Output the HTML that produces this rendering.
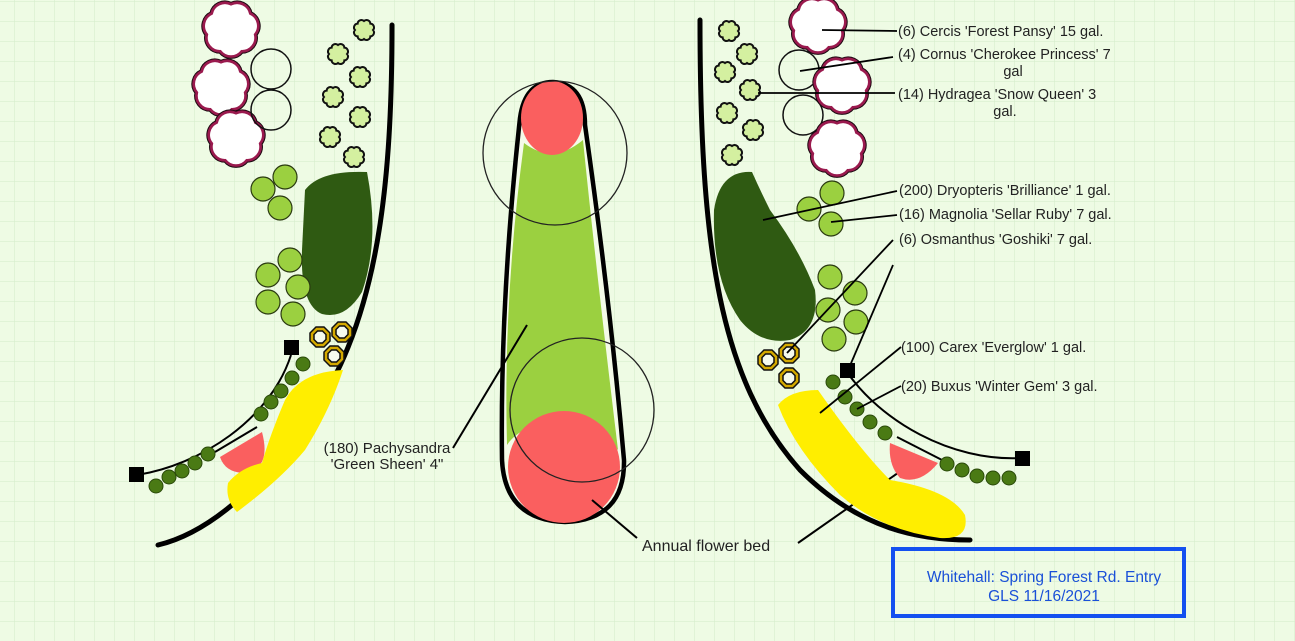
<!DOCTYPE html>
<html><head><meta charset="utf-8"><style>
html,body{margin:0;padding:0;background:#eefbe4}
svg{display:block}
text{font-family:"Liberation Sans",sans-serif;font-size:14.5px;fill:#222}
</style></head><body>
<svg width="1295" height="641" viewBox="0 0 1295 641" xmlns="http://www.w3.org/2000/svg">
<defs>
<pattern id="g" width="20" height="20" patternUnits="userSpaceOnUse" x="15" y="2">
<path d="M20 0V20M0 20H20" fill="none" stroke="#d3ebc9" stroke-width="1"/>
</pattern>
<path id="fp" d="M0,-21 A11.5,11.5 0 0 1 16.4,-13.1 A11.5,11.5 0 0 1 20.5,4.7 A11.5,11.5 0 0 1 9.1,18.9 A11.5,11.5 0 0 1 -9.1,18.9 A11.5,11.5 0 0 1 -20.5,4.7 A11.5,11.5 0 0 1 -16.4,-13.1 A11.5,11.5 0 0 1 0,-21Z" transform="scale(1.18)"/>
<g id="fl">
<use href="#fp" fill="#fff" stroke="#1a0a10" stroke-width="4"/>
<use href="#fp" fill="#fff" stroke="#9a1a4e" stroke-width="2.3"/>
</g>
<path id="sf" d="M9,0 A3.8,3.8 0 0 1 6.36,6.36 A3.8,3.8 0 0 1 0,9 A3.8,3.8 0 0 1 -6.36,6.36 A3.8,3.8 0 0 1 -9,0 A3.8,3.8 0 0 1 -6.36,-6.36 A3.8,3.8 0 0 1 0,-9 A3.8,3.8 0 0 1 6.36,-6.36 A3.8,3.8 0 0 1 9,0Z" fill="#d4f0a0" stroke="#111" stroke-width="2"/>
<g id="oc">
<polygon points="10,4 4,10 -4,10 -10,4 -10,-4 -4,-10 4,-10 10,-4" fill="#d4a900" stroke="#111" stroke-width="1.5"/>
<polygon points="6,2.5 2.5,6 -2.5,6 -6,2.5 -6,-2.5 -2.5,-6 2.5,-6 6,-2.5" fill="#f6fbef" stroke="#111" stroke-width="1.5"/>
</g>
</defs>
<rect width="1295" height="641" fill="#eefbe4"/>
<rect width="1295" height="641" fill="url(#g)"/>

<!-- LEFT -->
<path d="M392,25 C392,200 375,330 305,425 C250,500 200,535 158,545" fill="none" stroke="#000" stroke-width="5" stroke-linecap="round"/>
<use href="#fl" x="231" y="29"/><use href="#fl" x="221" y="87"/><use href="#fl" x="236" y="138"/>
<circle cx="271" cy="69" r="20" fill="none" stroke="#111" stroke-width="1.5"/>
<circle cx="271" cy="110" r="20" fill="none" stroke="#111" stroke-width="1.5"/>
<use href="#sf" x="364" y="30"/><use href="#sf" x="338" y="54"/><use href="#sf" x="360" y="77"/><use href="#sf" x="333" y="97"/><use href="#sf" x="360" y="117"/><use href="#sf" x="330" y="137"/><use href="#sf" x="354" y="157"/>
<path d="M305,190 Q320,170 367,172 Q380,240 362,292 Q345,320 322,314 Q300,305 302,250 Z" fill="#2f5a12"/>
<g fill="#9bd040" stroke="#2a3a10" stroke-width="1.2">
<circle cx="285" cy="177" r="12"/><circle cx="263" cy="189" r="12"/><circle cx="280" cy="208" r="12"/>
<circle cx="290" cy="260" r="12"/><circle cx="268" cy="275" r="12"/><circle cx="298" cy="287" r="12"/><circle cx="268" cy="302" r="12"/><circle cx="293" cy="314" r="12"/>
</g>
<use href="#oc" x="320" y="337"/><use href="#oc" x="342" y="332"/><use href="#oc" x="334" y="356"/>
<path d="M291,355 C270,420 200,465 137,475" fill="none" stroke="#000" stroke-width="2"/>
<path d="M257,427 L215,452" fill="none" stroke="#000" stroke-width="2"/>
<rect x="284" y="340" width="15" height="15" fill="#000"/>
<rect x="129" y="467" width="15" height="15" fill="#000"/>
<g fill="#4a7a14" stroke="#2a4a0a" stroke-width="1">
<circle cx="303" cy="364" r="7"/><circle cx="292" cy="378" r="7"/><circle cx="281" cy="391" r="7"/><circle cx="271" cy="402" r="7"/><circle cx="261" cy="414" r="7"/>
<circle cx="208" cy="454" r="7"/><circle cx="195" cy="463" r="7"/><circle cx="182" cy="471" r="7"/><circle cx="169" cy="477" r="7"/><circle cx="156" cy="486" r="7"/>
</g>
<path d="M220,457 L262,432 Q272,470 243,473 Q225,472 220,457Z" fill="#fa5f5f"/>
<path d="M343,370 Q300,372 285,400 Q270,435 262,463 Q240,468 228,483 Q225,500 237,512 Q280,480 305,450 Q330,410 343,370Z" fill="#ffee00"/>

<!-- CENTER -->
<path d="M520,118 Q525,82 553,82 Q585,84 585,125 Q610,300 624,460 Q625,520 565,522 Q505,520 502,460 Q500,300 520,118Z" fill="#f4fbe8" stroke="#000" stroke-width="4.5"/>
<path d="M524,143 Q553,165 583,140 Q595,260 618,450 Q590,420 560,420 Q520,425 507,445 Q503,300 524,143Z" fill="#9bd040"/>
<ellipse cx="552" cy="118" rx="31" ry="37" fill="#fa5f5f"/>
<circle cx="564" cy="467" r="56" fill="#fa5f5f"/>
<circle cx="555" cy="153" r="72" fill="none" stroke="#222" stroke-width="1.3"/>
<circle cx="582" cy="410" r="72" fill="none" stroke="#222" stroke-width="1.3"/>
<path d="M527,325 L453,448" stroke="#000" stroke-width="2"/>
<text x="387" y="453" text-anchor="middle" style="font-size:15px">(180) Pachysandra</text>
<text x="387" y="469" text-anchor="middle" style="font-size:15px">'Green Sheen' 4"</text>
<path d="M592,500 L637,538" stroke="#000" stroke-width="2"/>
<path d="M798,543 L905,468" stroke="#000" stroke-width="2"/>
<text x="642" y="551" style="font-size:16px">Annual flower bed</text>

<!-- RIGHT -->
<path d="M700,20 C700,250 720,380 800,470 C860,530 920,540 970,540" fill="none" stroke="#000" stroke-width="5" stroke-linecap="round"/>
<use href="#sf" x="729" y="31"/><use href="#sf" x="747" y="54"/><use href="#sf" x="725" y="72"/><use href="#sf" x="750" y="90"/><use href="#sf" x="727" y="113"/><use href="#sf" x="753" y="130"/><use href="#sf" x="732" y="155"/>
<circle cx="799" cy="70" r="20" fill="none" stroke="#111" stroke-width="1.5"/>
<circle cx="803" cy="115" r="20" fill="none" stroke="#111" stroke-width="1.5"/>
<use href="#fl" x="818" y="25"/><use href="#fl" x="842" y="85"/><use href="#fl" x="837" y="148"/>
<path d="M752,172 Q720,170 714,210 Q712,280 740,320 Q760,345 790,340 Q820,330 815,290 Q800,250 770,210 Q760,190 752,172Z" fill="#2f5a12"/>
<g fill="#9bd040" stroke="#2a3a10" stroke-width="1.2">
<circle cx="832" cy="193" r="12"/><circle cx="809" cy="209" r="12"/><circle cx="831" cy="224" r="12"/>
<circle cx="830" cy="277" r="12"/><circle cx="855" cy="293" r="12"/><circle cx="828" cy="310" r="12"/><circle cx="856" cy="322" r="12"/><circle cx="834" cy="339" r="12"/>
</g>
<use href="#oc" x="768" y="360"/><use href="#oc" x="789" y="353"/><use href="#oc" x="789" y="378"/>
<path d="M847,372 C880,420 950,462 1022,458" fill="none" stroke="#000" stroke-width="2"/>
<path d="M897,437 L942,460" fill="none" stroke="#000" stroke-width="2"/>
<rect x="840" y="363" width="15" height="15" fill="#000"/>
<rect x="1015" y="451" width="15" height="15" fill="#000"/>
<g fill="#4a7a14" stroke="#2a4a0a" stroke-width="1">
<circle cx="833" cy="382" r="7"/><circle cx="845" cy="397" r="7"/><circle cx="857" cy="409" r="7"/><circle cx="870" cy="422" r="7"/><circle cx="885" cy="433" r="7"/>
<circle cx="947" cy="464" r="7"/><circle cx="962" cy="470" r="7"/><circle cx="977" cy="476" r="7"/><circle cx="993" cy="478" r="7"/><circle cx="1009" cy="478" r="7"/>
</g>
<path d="M890,443 L938,463 Q920,485 900,478 Q888,465 890,443Z" fill="#fa5f5f"/>
<path d="M778,405 Q790,390 818,390 Q860,450 890,480 Q950,490 965,515 Q970,540 940,538 Q880,530 840,495 Q795,450 778,405Z" fill="#ffee00"/>

<!-- right labels -->
<g stroke="#000" stroke-width="1.8">
<path d="M822,30 L897,31"/><path d="M800,71 L893,57"/><path d="M758,93 L895,93"/>
<path d="M763,220 L897,191"/><path d="M831,222 L897,215"/><path d="M787,353 L893,240"/>
<path d="M893,265 L849,368"/><path d="M820,413 L901,347"/><path d="M857,409 L901,386"/>
</g>
<text x="898" y="36">(6) Cercis 'Forest Pansy' 15 gal.</text>
<text x="898" y="59">(4) Cornus 'Cherokee Princess' 7</text>
<text x="1013" y="76" text-anchor="middle">gal</text>
<text x="898" y="99">(14) Hydragea 'Snow Queen' 3</text>
<text x="1005" y="116" text-anchor="middle">gal.</text>
<text x="899" y="195">(200) Dryopteris 'Brilliance' 1 gal.</text>
<text x="899" y="219">(16) Magnolia 'Sellar Ruby' 7 gal.</text>
<text x="899" y="244">(6) Osmanthus 'Goshiki' 7 gal.</text>
<text x="901" y="352">(100) Carex 'Everglow' 1 gal.</text>
<text x="901" y="391">(20) Buxus 'Winter Gem' 3 gal.</text>

<rect x="893" y="549" width="291" height="67" fill="none" stroke="#1450f0" stroke-width="4"/>
<text x="1044" y="582" text-anchor="middle" style="fill:#1a50d8;font-size:15.5px">Whitehall: Spring Forest Rd. Entry</text>
<text x="1044" y="601" text-anchor="middle" style="fill:#1a50d8;font-size:15.5px">GLS 11/16/2021</text>
</svg>
</body></html>
